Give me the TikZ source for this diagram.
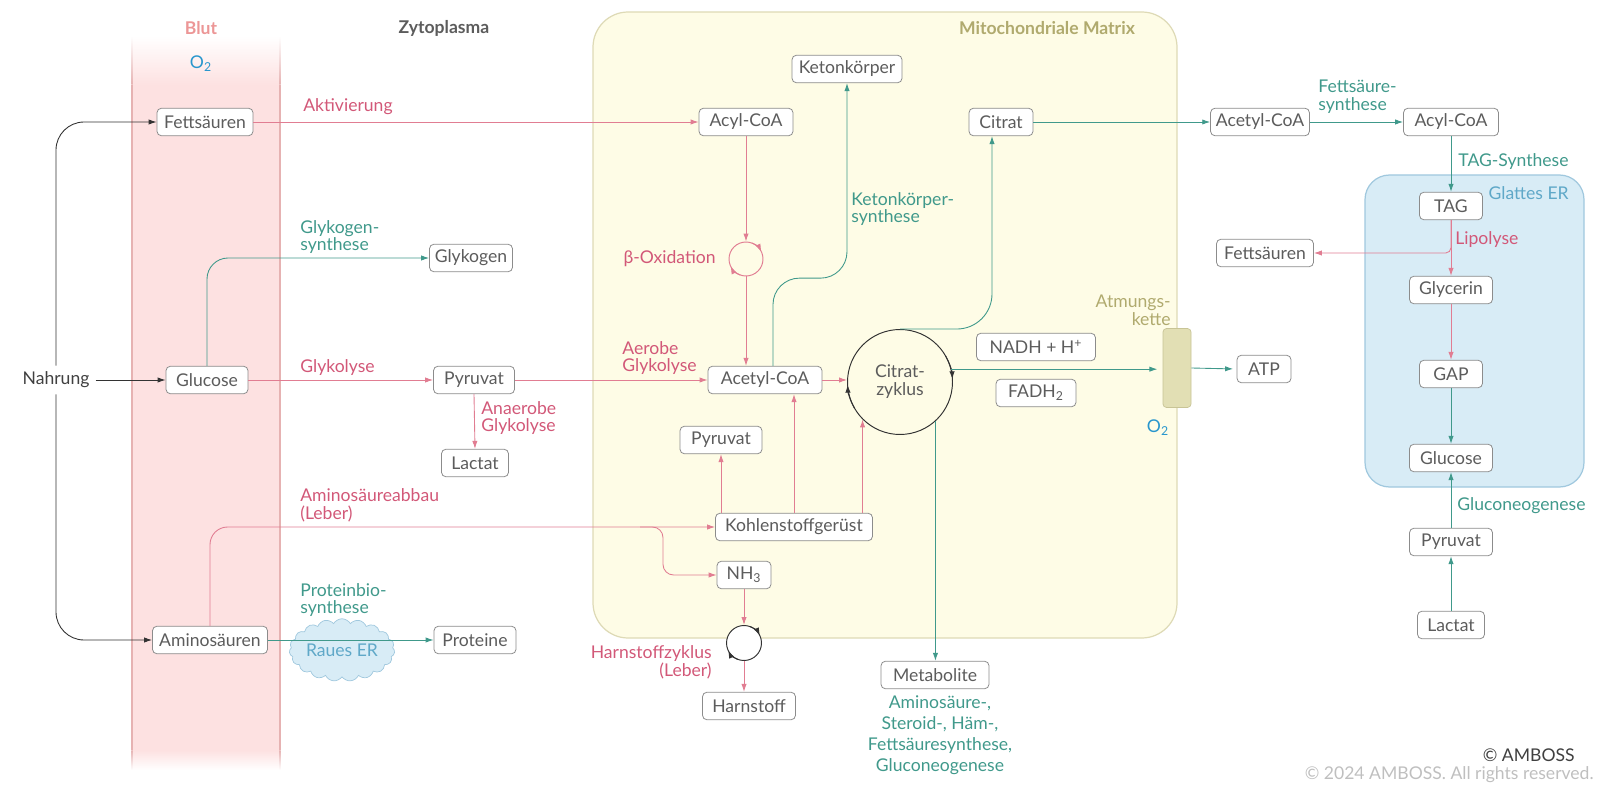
\documentclass[tikz,border=0pt]{standalone}
\usepackage{fontspec}
\setmainfont{Lato}
\usepackage{tikz}
\usetikzlibrary{arrows.meta,calc,shapes.symbols}

\definecolor{rosa}{RGB}{210,88,120}
\definecolor{rosalinie}{RGB}{225,125,146}
\definecolor{petrol}{RGB}{64,153,139}
\definecolor{kastengrau}{RGB}{140,140,140}
\definecolor{textgrau}{RGB}{92,92,92}
\definecolor{blutrot}{RGB}{253,225,225}
\definecolor{blutrand}{RGB}{230,178,178}
\definecolor{blutschrift}{RGB}{236,150,150}
\definecolor{matrixgelb}{RGB}{254,252,230}
\definecolor{matrixrand}{RGB}{222,218,182}
\definecolor{matrixschrift}{RGB}{176,170,110}
\definecolor{erblau}{RGB}{216,236,246}
\definecolor{errand}{RGB}{160,200,222}
\definecolor{erschrift}{RGB}{95,168,200}
\definecolor{sauerstoff}{RGB}{40,150,205}
\definecolor{kettenfarbe}{RGB}{226,223,180}
\definecolor{kettenrand}{RGB}{200,196,150}

\begin{document}
\begin{tikzpicture}[x=0.02cm, y=-0.02cm,
        font=\fontsize{10}{10.2}\selectfont,
        kasten/.style={draw=kastengrau, fill=white, text=textgrau, rounded corners=2.5pt,
            minimum height=0.55cm, inner xsep=3pt, inner ysep=2pt, line width=0.45pt},
        spitze/.style={-{Latex[length=4.5pt,width=3pt]}},
        rosapfeil/.style={draw=rosalinie, line width=0.5pt, spitze},
        petrolpfeil/.style={draw=petrol, line width=0.5pt, spitze},
        schwarzpfeil/.style={draw=black!80, line width=0.5pt, spitze},
        rosatext/.style={text=rosa, align=left, inner sep=0pt, anchor=west},
        petroltext/.style={text=petrol, align=left, inner sep=0pt, anchor=west},
        titel/.style={font=\fontsize{10}{12}\selectfont\bfseries, inner sep=0pt},
        zyklus/.style={circle, draw, inner sep=0pt, line width=0.55pt}]
        \useasboundingbox (0,0) rectangle (1600,787);

        % Blut
            \shade[top color=white, bottom color=blutrot] (132,36) rectangle (280,85);
            \fill[blutrot] (132,85) rectangle (280,750);
            \shade[top color=blutrot, bottom color=white] (132,750) rectangle (280,770);
            \foreach \rx in {132,280} {
                \shade[top color=white, bottom color=blutrand] (\rx-0.6,36) rectangle (\rx+0.6,85);
                \fill[blutrand] (\rx-0.6,85) rectangle (\rx+0.6,750);
                \shade[top color=blutrand, bottom color=white] (\rx-0.6,750) rectangle (\rx+0.6,770);
            }

        % Mitochondriale Matrix und glattes ER
            \draw[draw=matrixrand, fill=matrixgelb, rounded corners=20pt, line width=0.7pt] (593,12) rectangle (1177,638);
            \draw[draw=errand, fill=erblau, rounded corners=14pt, line width=0.7pt] (1365,175) rectangle (1584,487);

        % Titel
            \node[titel, text=blutschrift] (blutTitel) at (201,28) {Blut};
            \node[titel, text=textgrau] (zytoTitel) at (444,28) {Zytoplasma};
            \node[titel, text=matrixschrift] (matrixTitel) at (1047,28) {Mitochondriale Matrix};
            \node[text=erschrift, anchor=east, inner sep=0pt] (glattesER) at (1569,193) {Glattes ER};
            \node[text=sauerstoff, inner sep=0pt] (oBlut) at (201,64) {O\textsubscript{2}};
            \node[text=sauerstoff, inner sep=0pt] (oKette) at (1158,428) {O\textsubscript{2}};

        % Kaesten
            \node[text=black!75] (nahrung) at (56,380) {Nahrung};
            \node[kasten, minimum width=1.92cm] (fsBlut) at (205,122) {Fettsäuren};
            \node[kasten, minimum width=1.64cm] (glcBlut) at (207,380) {Glucose};
            \node[kasten, minimum width=2.3cm] (asBlut) at (210,640) {Aminosäuren};
            \node[kasten, minimum width=1.66cm] (glykogen) at (471,258) {Glykogen};
            \node[kasten, minimum width=1.62cm] (pyrCyto) at (474,380) {Pyruvat};
            \node[kasten, minimum width=1.34cm] (lacCyto) at (475,463) {Lactat};
            \node[kasten, minimum width=1.64cm] (proteine) at (475,640) {Proteine};
            \node[kasten, minimum width=1.88cm] (acylMito) at (746,122) {Acyl-CoA};
            \node[kasten, minimum width=2.2cm] (keton) at (847,69) {Ketonkörper};
            \node[kasten, minimum width=1.28cm] (citrat) at (1001,122) {Citrat};
            \node[kasten, minimum width=2.28cm] (acetylMito) at (765,380) {Acetyl-CoA};
            \node[kasten, minimum width=2.38cm] (nadh) at (1036,347) {NADH + H\textsuperscript{+}};
            \node[kasten, minimum width=1.6cm] (fadh) at (1036,393) {FADH\textsubscript{2}};
            \node[kasten, minimum width=1.64cm] (pyrMito) at (721,440) {Pyruvat};
            \node[kasten, minimum width=3.14cm] (kgeruest) at (794,527) {Kohlenstoffgerüst};
            \node[kasten, minimum width=1.08cm] (nh3) at (744,575) {NH\textsubscript{3}};
            \node[kasten, minimum width=1.86cm] (harnstoff) at (749,706) {Harnstoff};
            \node[kasten, minimum width=2.16cm] (metabolite) at (935,675) {Metabolite};
            \node[kasten, minimum width=1.08cm] (atp) at (1264,369) {ATP};
            \node[kasten, minimum width=1.94cm] (acetylCyto) at (1260,122) {Acetyl-CoA};
            \node[kasten, minimum width=1.9cm] (acylCyto) at (1451,122) {Acyl-CoA};
            \node[kasten, minimum width=1.26cm] (tag) at (1451,206) {TAG};
            \node[kasten, minimum width=1.94cm] (fsER) at (1265,253) {Fettsäuren};
            \node[kasten, minimum width=1.66cm] (glycerin) at (1451,290) {Glycerin};
            \node[kasten, minimum width=1.26cm] (gap) at (1451,374) {GAP};
            \node[kasten, minimum width=1.66cm] (glcER) at (1451,458) {Glucose};
            \node[kasten, minimum width=1.66cm] (pyrRight) at (1451,542) {Pyruvat};
            \node[kasten, minimum width=1.34cm] (lacRight) at (1451,625) {Lactat};

        % Zyklen, Atmungskette, raues ER
            \node[zyklus, draw=black!80, minimum size=2.1cm, align=center, text=textgrau] (citratZyklus) at (900,382) {Citrat-\\zyklus};
            \node[zyklus, draw=rosalinie, minimum size=0.68cm] (betaZyklus) at (746,259) {};
            \node[zyklus, draw=black!80, fill=white, minimum size=0.7cm] (harnZyklus) at (744,643) {};
            \draw[black!80, line width=0.55pt, spitze] (citratZyklus.center) ++(-30:52.5) arc (-30:-3:52.5);
            \draw[black!80, line width=0.55pt, spitze] (citratZyklus.center) ++(150:52.5) arc (150:177:52.5);
            \draw[rosalinie, line width=0.55pt, spitze] (betaZyklus.center) ++(-70:17) arc (-70:-25:17);
            \draw[rosalinie, line width=0.55pt, spitze] (betaZyklus.center) ++(110:17) arc (110:155:17);
            \draw[black!80, line width=0.55pt, spitze] (harnZyklus.center) ++(-70:17.5) arc (-70:-25:17.5);
            \draw[black!80, line width=0.55pt, spitze] (harnZyklus.center) ++(110:17.5) arc (110:155:17.5);
            \node[rectangle, minimum width=0.56cm, minimum height=1.58cm, rounded corners=2pt,
                fill=kettenfarbe, draw=kettenrand] (atmung) at (1177,368) {};
            \node[cloud, cloud puffs=19, cloud puff arc=120, aspect=1.9, minimum width=1.95cm,
                minimum height=1.05cm, draw=errand, fill=erblau, inner sep=0pt, text=erschrift] (rauesER) at (342,650) {\raisebox{-5pt}{Raues ER}};

        % Pfeile (Nahrung)
            \draw[schwarzpfeil] (nahrung.east) -- (glcBlut.west);
            \draw[schwarzpfeil, rounded corners=16pt] (nahrung.north) |- (fsBlut.west);
            \draw[schwarzpfeil, rounded corners=16pt] (nahrung.south) |- (asBlut.west);

        % Pfeile (Abbau)
            \draw[rosapfeil] (fsBlut.east) -- (acylMito.west);
            \draw[rosapfeil] (glcBlut.east) -- (pyrCyto.west);
            \draw[rosapfeil] (pyrCyto.south) -- (lacCyto.north);
            \draw[rosapfeil] (pyrCyto.east) -- (acetylMito.west);
            \draw[rosapfeil] (acylMito.south) -- (betaZyklus.north);
            \draw[rosapfeil] (betaZyklus.south) -- (betaZyklus.south |- acetylMito.north);
            \draw[rosapfeil] (acetylMito.east) -- (acetylMito.east -| citratZyklus.west);
            \draw[rosapfeil, rounded corners=10pt] (asBlut.north) |- (kgeruest.west);
            \coordinate (abzweig) at (640,527);
            \coordinate (knick) at (663,575);
            \draw[rosapfeil, rounded corners=6pt] (abzweig) -| (knick) -- (nh3.west);
            \draw[rosapfeil] (pyrMito.south |- kgeruest.north) -- (pyrMito.south);
            \draw[rosapfeil] (kgeruest.north) -- (kgeruest.north |- acetylMito.south);
            \draw[rosapfeil] (citratZyklus.-135 |- kgeruest.north) -- (citratZyklus.-135);
            \draw[rosapfeil] (nh3.south) -- (harnZyklus.north);
            \draw[rosapfeil] (harnZyklus.south) -- (harnZyklus.south |- harnstoff.north);
            \draw[rosapfeil, rounded corners=3pt] (tag.south) |- (fsER.east);
            \draw[rosapfeil] (tag.south) -- (glycerin.north);
            \draw[rosapfeil] (glycerin.south) -- (gap.north);

        % Pfeile (Aufbau)
            \draw[petrolpfeil, rounded corners=12pt] (glcBlut.north) |- (glykogen.west);
            \draw[petrolpfeil] (asBlut.east) -- (proteine.west);
            \draw[petrolpfeil, rounded corners=15pt] ($(acetylMito.north)+(8,0)$) |- ($(keton.south)+(0,195)$) -- (keton.south);
            \draw[petrolpfeil, rounded corners=20pt] (citratZyklus.north) -| ($(citrat.south)+(-9,0)$);
            \draw[petrolpfeil] (citrat.east) -- (acetylCyto.west);
            \draw[petrolpfeil] (acetylCyto.east) -- (acylCyto.west);
            \draw[petrolpfeil] (acylCyto.south) -- (tag.north);
            \draw[petrolpfeil] (gap.south) -- (glcER.north);
            \draw[petrolpfeil] (pyrRight.north) -- (glcER.south);
            \draw[petrolpfeil] (lacRight.north) -- (pyrRight.south);
            \draw[petrolpfeil, shorten >=3pt] (citratZyklus.14) -- (citratZyklus.14 -| atmung.west);
            \draw[petrolpfeil, shorten >=2pt] (atmung.east) -- (atp.west);
            \draw[petrolpfeil] (citratZyklus.-48) -- (citratZyklus.-48 |- metabolite.north);

        % Beschriftungen
            \node[rosatext] (aktivierung) at (303,107) {Aktivierung};
            \node[petroltext] (glykogenSyn) at (300,237) {Glykogen-\\synthese};
            \node[rosatext] (glykolyse) at (300,368) {Glykolyse};
            \node[rosatext] (anaerob) at (481,418) {Anaerobe\\Glykolyse};
            \node[rosatext] (asAbbau) at (300,505) {Aminosäureabbau\\(Leber)};
            \node[petroltext] (proteinSyn) at (300,600) {Proteinbio-\\synthese};
            \node[rosatext] (aerob) at (622,358) {Aerobe\\Glykolyse};
            \node[rosatext, anchor=east] (betaOx) at (716,259) {β-Oxidation};
            \node[petroltext] (ketonSyn) at (851,209) {Ketonkörper-\\synthese};
            \node[rosatext, anchor=east, align=right] (harnText) at (712,662) {Harnstoffzyklus\\(Leber)};
            \node[petroltext] (fsSyn) at (1318,97) {Fettsäure-\\synthese};
            \node[petroltext] (tagSyn) at (1458,162) {TAG-Synthese};
            \node[rosatext] (lipolyse) at (1455,240) {Lipolyse};
            \node[petroltext] (gluconeo) at (1457,506) {Gluconeogenese};
            \node[text=matrixschrift, anchor=east, align=right, inner sep=0pt] (atmungText) at (1171,310) {Atmungs-\\kette};
            \node[petroltext, anchor=north, align=center, font=\fontsize{10}{12}\selectfont] (metabText) at (940,695) {Aminosäure-,\\Steroid-, Häm-,\\Fettsäuresynthese,\\Gluconeogenese};

        % Copyright
            \node[anchor=east, text=black!75, inner sep=0pt] (amboss) at (1575,755) {© AMBOSS};
            \node[anchor=east, text=black!25, inner sep=0pt] (rechte) at (1594,775) {© 2024 AMBOSS. All rights reserved.};
    \end{tikzpicture}
\end{document}
